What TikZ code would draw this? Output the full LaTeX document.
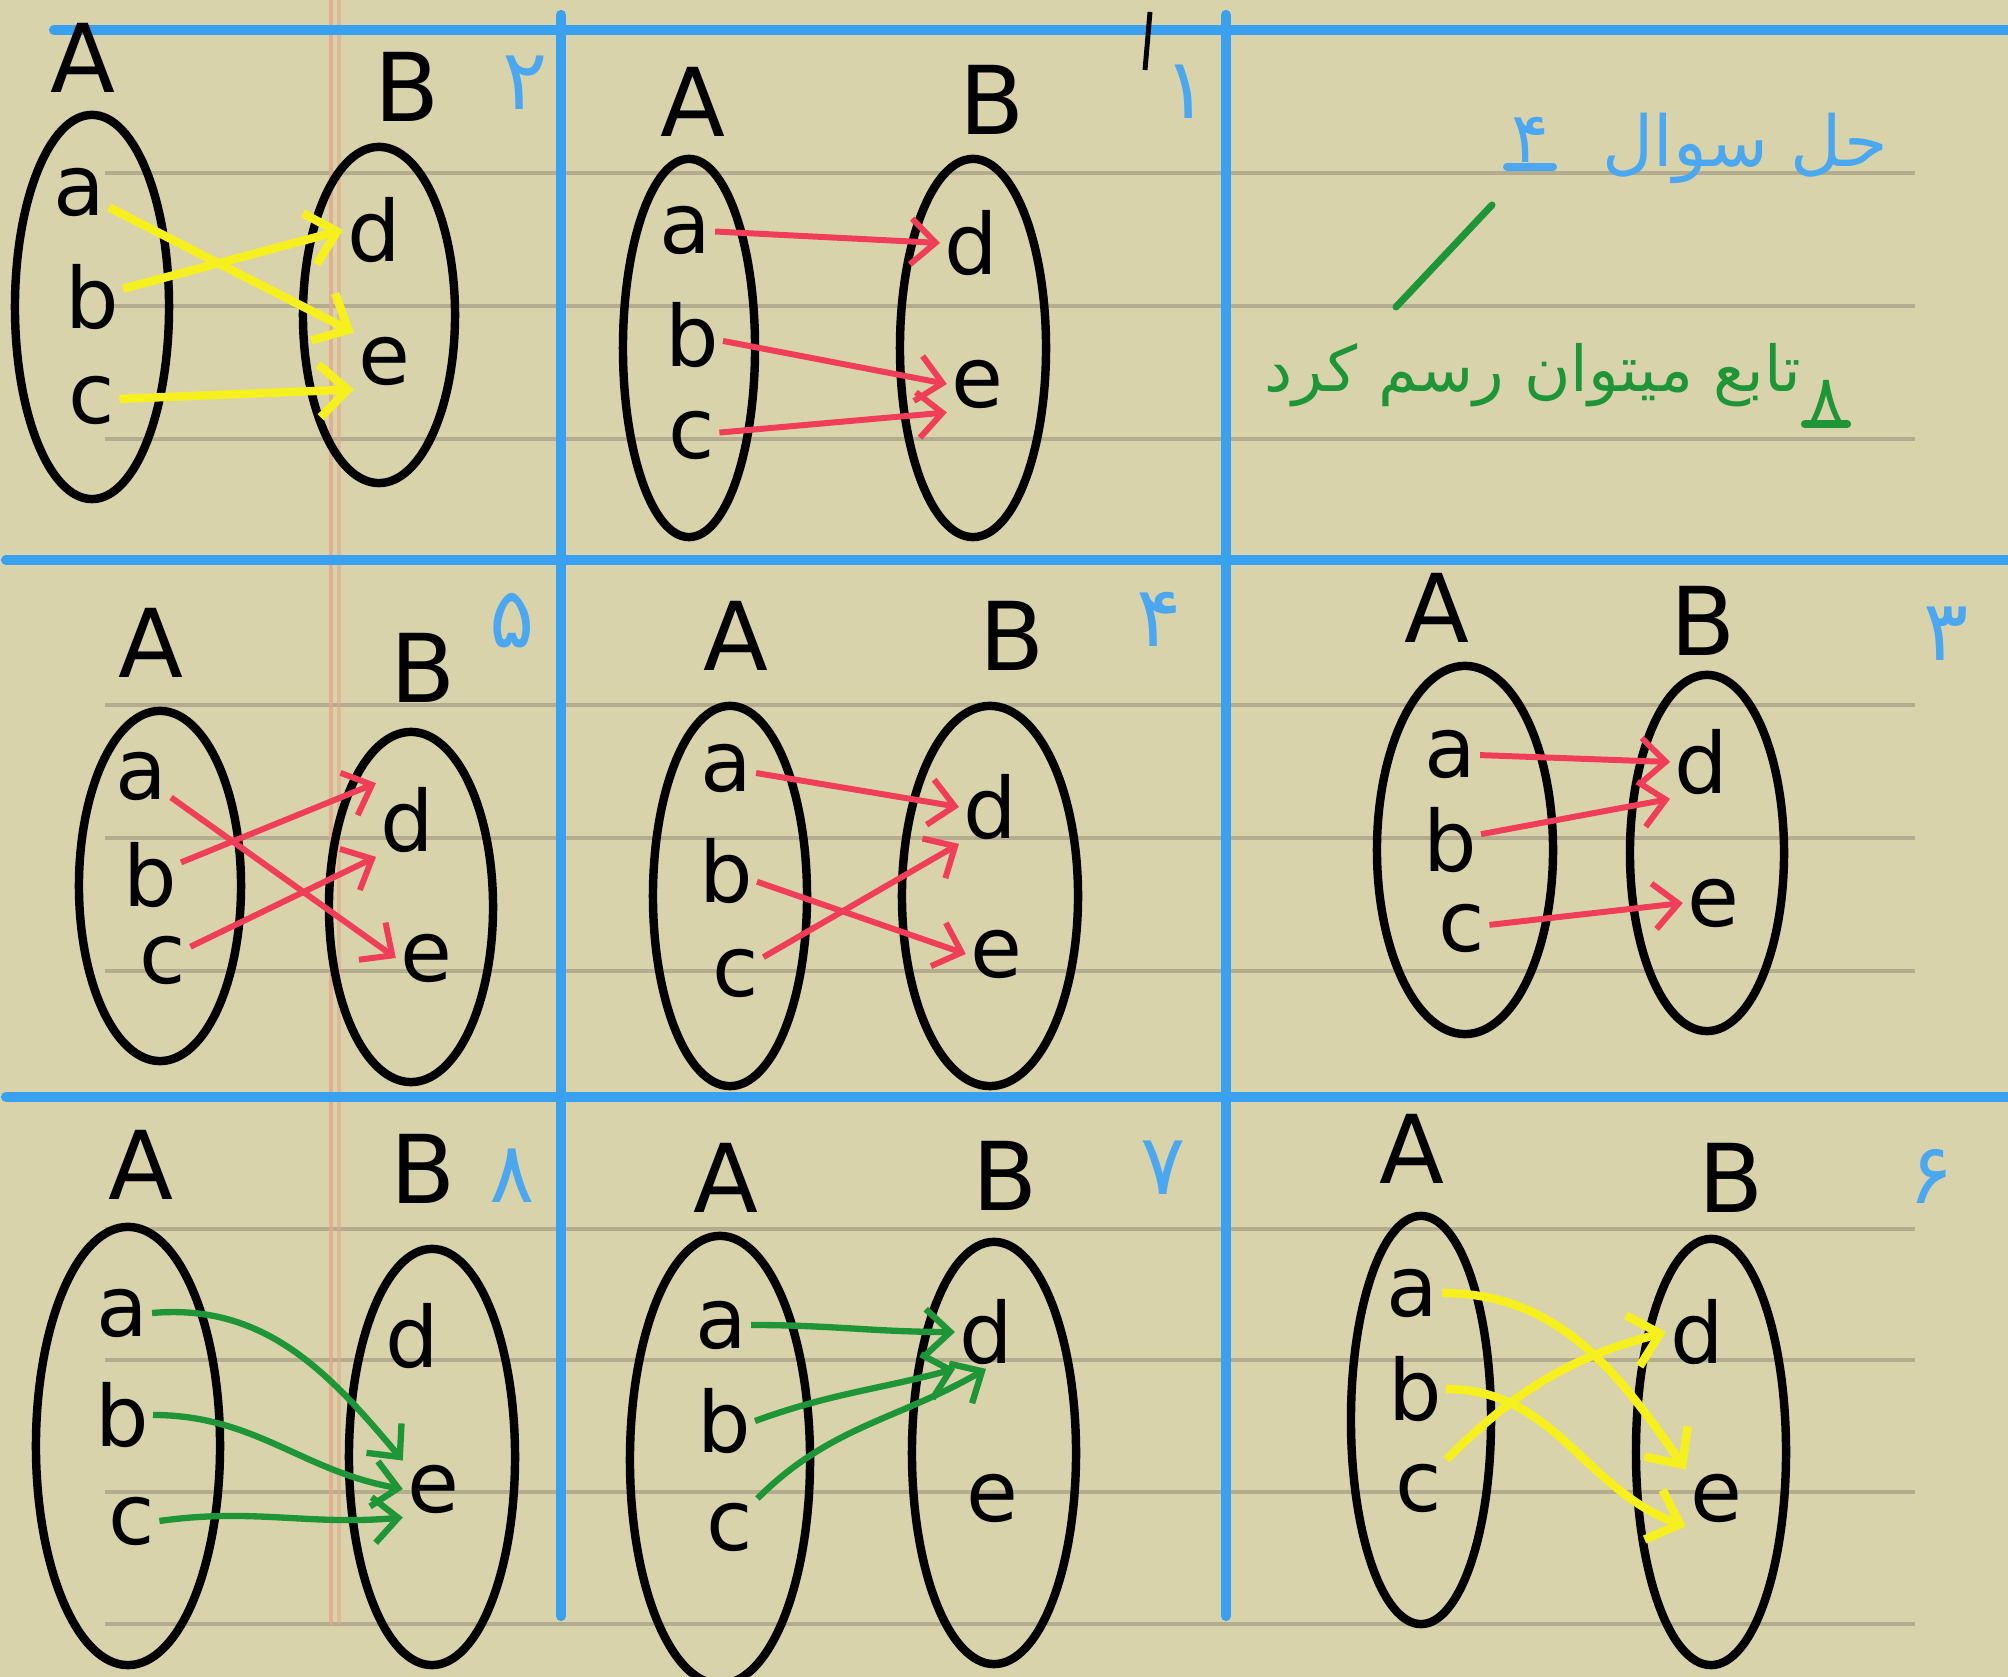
\documentclass[tikz,border=0pt]{standalone}
\usepackage{fontspec}
\setmainfont{DejaVu Sans}
\newfontfamily\fafont[Script=Arabic]{DejaVu Sans}
\TeXXeTstate=1
\usetikzlibrary{shapes.geometric,arrows.meta}
\definecolor{paper}{RGB}{217,211,171}
\definecolor{gridblue}{RGB}{58,160,240}
\definecolor{rulecol}{RGB}{180,172,142}
\definecolor{margincol}{RGB}{226,168,140}
\definecolor{penred}{RGB}{240,62,88}
\definecolor{penyellow}{RGB}{246,240,30}
\definecolor{pengreen}{RGB}{30,150,55}
\definecolor{textblue}{RGB}{75,168,240}
\begin{document}
\begin{tikzpicture}[x=0.01cm,y=-0.01cm,
  setoval/.style={draw=black, line width=2.4pt, ellipse, inner sep=0pt},
  elem/.style={font=\fontsize{24}{24}\selectfont, inner sep=1pt},
  setname/.style={font=\fontsize{27}{27}\selectfont},
  cellnum/.style={font=\fafont\fontsize{24}{24}\selectfont, text=textblue},
  gridline/.style={draw=gridblue, line width=2.9pt, line cap=round},
  ruleline/.style={draw=rulecol, line width=0.9pt},
  yelarrow/.style={draw=penyellow, line width=2.4pt, -{Straight Barb[length=8pt,width=15pt]}},
  redarrow/.style={draw=penred, line width=1.7pt, -{Straight Barb[length=7pt,width=13pt]}},
  grnarrow/.style={draw=pengreen, line width=1.8pt, -{Straight Barb[length=7pt,width=13pt]}}
]
\useasboundingbox[fill=paper] (0,0) rectangle (2008,1677);
% ruled paper
\foreach \yy in {173,306,439,705,838,971,1229,1360,1492,1624}
  \draw[ruleline] (105,\yy) -- (1915,\yy);
\draw[draw=margincol, line width=1.2pt, opacity=0.8] (331,0) -- (331,1625);
\draw[draw=margincol, line width=1.2pt, opacity=0.6] (339,0) -- (339,1625);
% blue grid
\draw[gridline] (54,30) -- (2008,30);
\draw[gridline] (6,560) -- (2008,560);
\draw[gridline] (6,1097) -- (2008,1097);
\draw[gridline] (561,15) -- (561,1616);
\draw[gridline] (1226,15) -- (1226,1616);

% ---------- cell 2 (top-left) ----------
\node[setoval, minimum width=1.54cm, minimum height=3.84cm] (A1) at (92,307) {};
\node[setoval, minimum width=1.52cm, minimum height=3.36cm] (B1) at (379,315) {};
\node[setname] (nA1) at (83,58) {A};
\node[setname] (nB1) at (407,87) {B};
\node[cellnum] (k1) at (525,83) {۲};
\node[elem] (a1) at (79,192) {a};
\node[elem] (b1) at (92,297) {b};
\node[elem] (c1) at (92,400) {c};
\node[elem] (d1) at (374,230) {d};
\node[elem] (e1) at (384,361) {e};
\draw[yelarrow] (a1) -- (e1.north west);
\draw[yelarrow] (b1) -- (d1.west);
\draw[yelarrow] (c1) -- (e1.south west);

% ---------- cell 1 (top-middle) ----------
\node[setoval, minimum width=1.32cm, minimum height=3.78cm] (A2) at (689,348) {};
\node[setoval, minimum width=1.46cm, minimum height=3.78cm] (B2) at (973,348) {};
\node[setname] (nA2) at (693,102) {A};
\node[setname] (nB2) at (992,100) {B};
\node[cellnum] (k2) at (1186,92) {۱};
\draw[line width=1.4pt] (1150,12) -- (1145,70);
\node[elem] (a2) at (685,230) {a};
\node[elem] (b2) at (692,335) {b};
\node[elem] (c2) at (692,435) {c};
\node[elem] (d2) at (971,243) {d};
\node[elem] (e2) at (977,384) {e};
\draw[redarrow] (a2) -- (d2.west);
\draw[redarrow] (b2) -- (e2.west);
\draw[redarrow] (c2) -- (e2.south west);

% ---------- cell text (top-right) ----------
\node[font=\fafont\fontsize{20}{20}\selectfont, text=textblue] (q1) at (1745,148) {\beginR حل سوال\endR};
\node[font=\fafont\fontsize{20}{20}\selectfont, text=textblue, inner sep=1pt] (q4) at (1530,140) {۴};
\draw[draw=textblue, line width=2.2pt, line cap=round] (q4.south west) -- (q4.south east);
\node[font=\fafont\fontsize{18}{18}\selectfont, text=pengreen] (g1) at (1533,375) {\beginR تابع میتوان رسم کرد\endR};
\node[font=\fafont\fontsize{18}{18}\selectfont, text=pengreen, inner sep=1pt] (g8) at (1826,400) {۸};
\draw[draw=pengreen, line width=2.2pt, line cap=round] (g8.south west) -- (g8.south east);
\coordinate (s1) at (1492,205);
\coordinate (s2) at (1396,307);
\draw[draw=pengreen, line width=2pt, line cap=round] (s1) -- (s2);

% ---------- cell 5 (middle-left) ----------
\node[setoval, minimum width=1.62cm, minimum height=3.5cm] (A4) at (160,886) {};
\node[setoval, minimum width=1.64cm, minimum height=3.5cm] (B4) at (411,907) {};
\node[setname] (nA4) at (151,643) {A};
\node[setname] (nB4) at (423,668) {B};
\node[cellnum] (k4) at (512,621) {۵};
\node[elem] (a4) at (141,776) {a};
\node[elem] (b4) at (150,875) {b};
\node[elem] (c4) at (163,960) {c};
\node[elem] (d4) at (407,820) {d};
\node[elem] (e4) at (426,958) {e};
\draw[redarrow] (a4) -- (e4.west);
\draw[redarrow] (b4) -- (d4.north west);
\draw[redarrow] (c4) -- (d4.south west);

% ---------- cell 4 (center) ----------
\node[setoval, minimum width=1.54cm, minimum height=3.8cm] (A5) at (730,896) {};
\node[setoval, minimum width=1.76cm, minimum height=3.8cm] (B5) at (990,896) {};
\node[setname] (nA5) at (736,636) {A};
\node[setname] (nB5) at (1012,636) {B};
\node[cellnum] (k5) at (1159,619) {۴};
\node[elem] (a5) at (726,768) {a};
\node[elem] (b5) at (726,871) {b};
\node[elem] (c5) at (736,973) {c};
\node[elem] (d5) at (990,807) {d};
\node[elem] (e5) at (996,954) {e};
\draw[redarrow] (a5) -- (d5.west);
\draw[redarrow] (b5) -- (e5.west);
\draw[redarrow] (c5) -- (d5.south west);

% ---------- cell 3 (middle-right) ----------
\node[setoval, minimum width=1.76cm, minimum height=3.68cm] (A6) at (1465,850) {};
\node[setoval, minimum width=1.54cm, minimum height=3.56cm] (B6) at (1707,853) {};
\node[setname] (nA6) at (1437,608) {A};
\node[setname] (nB6) at (1703,621) {B};
\node[cellnum] (k6) at (1946,634) {۳};
\node[elem] (a6) at (1450,754) {a};
\node[elem] (b6) at (1450,840) {b};
\node[elem] (c6) at (1462,928) {c};
\node[elem] (d6) at (1701,762) {d};
\node[elem] (e6) at (1713,903) {e};
\draw[redarrow] (a6) -- (d6.west);
\draw[redarrow] (b6) -- (d6.south west);
\draw[redarrow] (c6) -- (e6.west);

% ---------- cell 8 (bottom-left) ----------
\node[setoval, minimum width=1.84cm, minimum height=4.38cm] (A7) at (128,1446) {};
\node[setoval, minimum width=1.66cm, minimum height=4.16cm] (B7) at (432,1457) {};
\node[setname] (nA7) at (141,1165) {A};
\node[setname] (nB7) at (423,1169) {B};
\node[cellnum] (k7) at (512,1176) {۸};
\node[elem] (a7) at (122,1313) {a};
\node[elem] (b7) at (122,1415) {b};
\node[elem] (c7) at (132,1521) {c};
\node[elem] (d7) at (412,1336) {d};
\node[elem] (e7) at (433,1489) {e};
\draw[grnarrow] (a7.east) to[out=5,in=130] (e7.north west);
\draw[grnarrow] (b7.east) to[out=0,in=170] (e7.west);
\draw[grnarrow] (c7.east) to[out=8,in=185] (e7.south west);

% ---------- cell 7 (bottom-middle) ----------
\node[setoval, minimum width=1.8cm, minimum height=4.48cm] (A8) at (720,1460) {};
\node[setoval, minimum width=1.64cm, minimum height=4.22cm] (B8) at (994,1453) {};
\node[setname] (nA8) at (726,1178) {A};
\node[setname] (nB8) at (1005,1176) {B};
\node[cellnum] (k8) at (1163,1168) {۷};
\node[elem] (a8) at (721,1325) {a};
\node[elem] (b8) at (724,1421) {b};
\node[elem] (c8) at (730,1527) {c};
\node[elem] (d8) at (986,1332) {d};
\node[elem] (e8) at (992,1498) {e};
\draw[grnarrow] (a8.east) to[out=0,in=180] (d8.west);
\draw[grnarrow] (b8.east) to[out=20,in=195] (d8.south west);
\draw[grnarrow] (c8.north east) to[out=45,in=210] (d8.south);

% ---------- cell 6 (bottom-right) ----------
\node[setoval, minimum width=1.4cm, minimum height=4.08cm] (A9) at (1421,1420) {};
\node[setoval, minimum width=1.5cm, minimum height=4.26cm] (B9) at (1711,1452) {};
\node[setname] (nA9) at (1412,1149) {A};
\node[setname] (nB9) at (1731,1178) {B};
\node[cellnum] (k9) at (1931,1176) {۶};
\node[elem] (a9) at (1412,1293) {a};
\node[elem] (b9) at (1415,1389) {b};
\node[elem] (c9) at (1419,1488) {c};
\node[elem] (d9) at (1697,1332) {d};
\node[elem] (e9) at (1716,1498) {e};
\draw[yelarrow] (a9.east) to[out=0,in=125] (e9.north west);
\draw[yelarrow] (b9.east) to[out=0,in=160] (e9.south west);
\draw[yelarrow] (c9.north east) to[out=45,in=195] (d9.west);
\end{tikzpicture}
\end{document}
